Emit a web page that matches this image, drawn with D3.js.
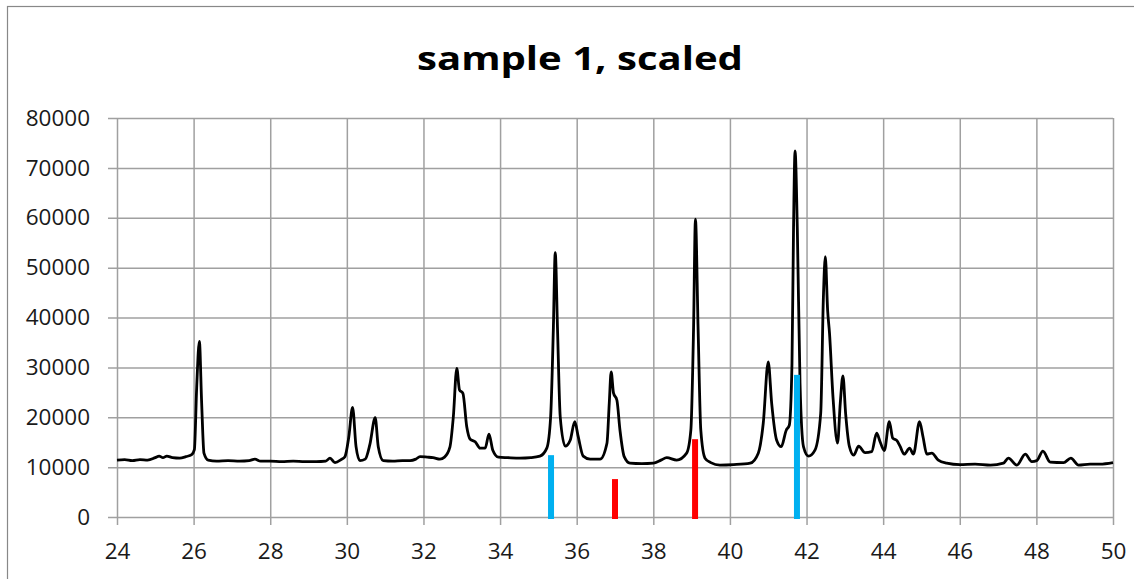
<!DOCTYPE html>
<html>
<head>
<meta charset="utf-8">
<script src="https://cdn.jsdelivr.net/npm/d3@7"></script>
<style>
  body { margin: 0; background: #fff; }
  svg { display: block; }
</style>
</head>
<body>
<svg id="chart" width="1134" height="579"></svg>
<script>
// chart data
var title = "sample 1, scaled";
var xTicks = [24, 26, 28, 30, 32, 34, 36, 38, 40, 42, 44, 46, 48, 50];
var yTicks = [0, 10000, 20000, 30000, 40000, 50000, 60000, 70000, 80000];

// 2-theta positions of the scan
var twoTheta = [24.0, 24.2, 24.4, 24.6, 24.8, 25.0, 25.1, 25.2, 25.3, 25.45, 25.64, 25.8, 25.95, 26.02, 26.08, 26.15, 26.21, 26.27, 26.38, 26.6,
  26.9, 27.2, 27.45, 27.6, 27.75, 28.0, 28.3, 28.6, 28.9, 29.2, 29.45, 29.56, 29.69, 29.85, 29.95, 30.05, 30.15, 30.24, 30.34, 30.48,
  30.6, 30.74, 30.82, 30.95, 31.2, 31.45, 31.65, 31.8, 31.91, 32.1, 32.25, 32.43, 32.55, 32.69, 32.78, 32.87, 32.94, 33.03, 33.13, 33.22,
  33.35, 33.48, 33.61, 33.71, 33.81, 33.96, 34.2, 34.52, 34.8, 35.04, 35.22, 35.32, 35.39, 35.44, 35.5, 35.57, 35.7, 35.83, 35.95, 36.04,
  36.17, 36.35, 36.61, 36.79, 36.85, 36.9, 36.96, 37.05, 37.13, 37.24, 37.39, 37.7, 38.0, 38.2, 38.35, 38.61, 38.87, 38.98, 39.05, 39.1,
  39.17, 39.24, 39.35, 39.5, 39.74, 40.1, 40.53, 40.74, 40.87, 41.0, 41.09, 41.22, 41.34, 41.47, 41.55, 41.62, 41.66, 41.7, 41.76, 41.83,
  41.92, 42.05, 42.22, 42.37, 42.44, 42.49, 42.55, 42.6, 42.69, 42.81, 42.88, 42.95, 43.02, 43.12, 43.23, 43.36, 43.53, 43.7, 43.83, 43.92,
  44.03, 44.16, 44.25, 44.36, 44.44, 44.55, 44.69, 44.79, 44.95, 45.04, 45.14, 45.27, 45.44, 45.66, 46.0, 46.4, 46.8, 47.14, 47.27, 47.49,
  47.71, 47.88, 48.01, 48.17, 48.36, 48.71, 48.9, 49.1, 49.4, 49.66, 50.0];

// intensity at each position
var intensity = [11400, 11500, 11300, 11500, 11400, 11900, 12200, 11900, 12200, 11900, 11800, 12100, 12500, 13500, 26000, 35200, 22800, 12800, 11400, 11200,
  11300, 11200, 11300, 11600, 11200, 11200, 11100, 11200, 11100, 11100, 11200, 11800, 10900, 11500, 12100, 16000, 22000, 14100, 11300, 11600,
  14500, 19900, 14100, 11300, 11200, 11300, 11300, 11600, 12100, 12000, 11900, 11600, 12000, 14000, 20100, 29800, 25500, 24800, 18100, 15600,
  15100, 13800, 13800, 16600, 13400, 12000, 11900, 11800, 11900, 12200, 13800, 20100, 37500, 53000, 37500, 20100, 14200, 15400, 19100, 16100,
  12200, 11600, 11600, 14800, 22800, 29100, 24900, 23400, 17400, 12100, 10800, 10700, 10800, 11400, 11900, 11400, 12800, 17400, 37500, 59700,
  37500, 17400, 11800, 10900, 10400, 10500, 10800, 12800, 18800, 31100, 22800, 15400, 14100, 17400, 18400, 30800, 57500, 73400, 57500, 26800,
  14100, 12200, 13400, 20800, 44100, 52200, 41500, 36800, 24100, 14800, 22800, 28300, 20800, 14100, 12400, 14200, 12900, 13100, 16800, 15100,
  13300, 19100, 15800, 15300, 14200, 12600, 13800, 12600, 19100, 16100, 12600, 12800, 11400, 10800, 10500, 10600, 10400, 10800, 11800, 10400,
  12600, 11100, 11300, 13200, 11000, 10900, 11800, 10400, 10600, 10600, 10900];

// reference lines under the scan
var markerPos = [35.33, 37.0, 39.09, 41.75];
var markerHeight = [12400, 7600, 15600, 28500];
var markerColor = ["#00b0f0", "#ff0000", "#ff0000", "#00b0f0"];

var svg = d3.select("#chart");
var plotLeft = 117, plotRight = 1113, plotTop = 118, plotBottom = 517;

var x = d3.scaleLinear().domain([24, 50]).range([plotLeft, plotRight]);
var y = d3.scaleLinear().domain([0, 80000]).range([plotBottom, plotTop]);

svg.append("rect").attr("width", 1134).attr("height", 579).attr("fill", "#fff");

// outer chart frame
svg.append("rect")
  .attr("x", 7.5).attr("y", 6.5)
  .attr("width", 1300).attr("height", 700)
  .attr("fill", "none").attr("stroke", "#888").attr("stroke-width", 1.2);

svg.append("text")
  .attr("x", 580).attr("y", 70)
  .attr("text-anchor", "middle")
  .attr("font-family", "'Open Sans', sans-serif")
  .attr("font-weight", "bold")
  .attr("font-size", 33)
  .attr("textLength", 326)
  .attr("lengthAdjust", "spacingAndGlyphs")
  .attr("fill", "#000")
  .text(title);

// y grid + ticks + labels (axis placed on the right so ticks span the plot)
var yAxis = svg.append("g")
  .attr("transform", "translate(" + plotRight + ",0)")
  .call(d3.axisLeft(y).tickValues(yTicks).tickSize(plotRight - 108).tickPadding(18).tickFormat(d3.format("d")));

var xAxis = svg.append("g")
  .attr("transform", "translate(0," + plotTop + ")")
  .call(d3.axisBottom(x).tickValues(xTicks).tickSize(525 - plotTop).tickPadding(18).tickFormat(d3.format("d")));

[yAxis, xAxis].forEach(function(ax){
  ax.select(".domain").remove();
  ax.selectAll(".tick line").attr("stroke", "#a0a0a0").attr("stroke-width", 1.5);
  ax.selectAll(".tick text")
    .attr("font-family", "'Open Sans', sans-serif")
    .attr("font-size", 22.5)
    .attr("fill", "#1a1a1a");
});

var line = d3.line()
  .curve(d3.curveMonotoneX)
  .x(function(d, i){ return x(twoTheta[i]); })
  .y(function(d){ return y(d); });

svg.append("path")
  .datum(intensity)
  .attr("d", line)
  .attr("fill", "none")
  .attr("stroke", "#000")
  .attr("stroke-width", 2.8)
  .attr("stroke-linejoin", "round");

svg.selectAll(".marker").data(markerPos).enter().append("rect")
  .attr("class", "marker")
  .attr("x", function(d){ return x(d) - 3; })
  .attr("width", 6)
  .attr("y", function(d, i){ return y(markerHeight[i]); })
  .attr("height", function(d, i){ return y(0) + 2 - y(markerHeight[i]); })
  .attr("fill", function(d, i){ return markerColor[i]; });
</script>
</body>
</html>
